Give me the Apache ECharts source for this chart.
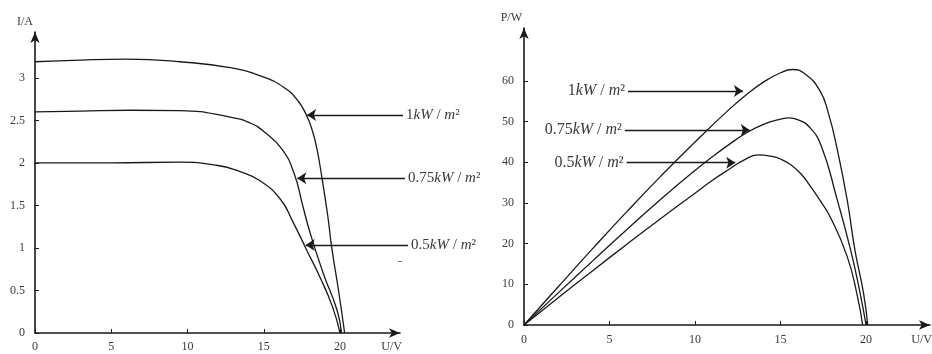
<!DOCTYPE html>
<html><head><meta charset="utf-8">
<script src="https://cdn.jsdelivr.net/npm/echarts@6/dist/echarts.min.js"></script>
<style>html,body{margin:0;padding:0;background:#fff}#c{width:932px;height:354px}</style>
</head><body><div id="c"></div><script>
// ---- I-V curves (left chart) ----
const ivU_1 = [0, 3, 6, 9.5, 12.8, 15, 16.3, 17.2, 17.8, 18.2, 18.5, 18.8, 19.2, 19.45, 19.9, 20.3];
const ivI_1 = [3.19, 3.21, 3.22, 3.19, 3.12, 3.01, 2.89, 2.74, 2.56, 2.37, 2.15, 1.84, 1.37, 1.01, 0.5, 0];
const ivU_075 = [0, 3, 6.2, 9.5, 12.8, 14.1, 15, 16.2, 17, 17.55, 18, 18.9, 19.8, 20.1];
const ivI_075 = [2.6, 2.61, 2.62, 2.615, 2.54, 2.47, 2.37, 2.16, 1.87, 1.5, 1.2, 0.7, 0.27, 0];
const ivU_05 = [0, 5, 9.5, 12, 13.4, 14.75, 16.1, 16.9, 17.8, 18.7, 19.5, 20];
const ivI_05 = [2.0, 2.0, 2.01, 1.97, 1.9, 1.79, 1.57, 1.31, 0.98, 0.65, 0.31, 0];
// ---- P-V curves (right chart) ----
const pvU_1 = [0, 2, 4, 6, 8, 10, 12, 13, 14, 15, 15.7, 16.4, 17.3, 17.8, 18.3, 18.9, 19.35, 19.85, 20.1];
const pvP_1 = [0, 9.4, 18.7, 27.8, 36.6, 45, 53, 56.6, 59.7, 62, 62.8, 61.8, 57.6, 52, 43.5, 30.7, 18.4, 7.9, 0];
const pvU_075 = [0, 2, 4, 6, 8, 10, 11, 12, 13, 14, 15, 15.5, 16, 16.7, 17.4, 18.3, 19.1, 19.65, 20];
const pvP_075 = [0, 7.9, 15.7, 23.4, 30.9, 38, 41.3, 44.4, 47.2, 49.3, 50.6, 50.9, 50.5, 48.6, 43.8, 31, 18.4, 7.9, 0];
const pvU_05 = [0, 2, 4, 6, 8, 10, 11, 12, 12.8, 13.7, 14.4, 15, 15.6, 16.2, 16.7, 17.3, 17.9, 18.9, 19.5, 19.8];
const pvP_05 = [0, 6.7, 13.3, 19.8, 26.2, 32.4, 35.5, 38.3, 40.4, 41.8, 41.5, 40.8, 39.4, 37.1, 34.4, 30.7, 26.6, 16.8, 7, 0];
// ---- labels / ticks ----
const irradiance = ['1', '0.75', '0.5'];
const uTicks = [0, 5, 10, 15, 20];
const iTicks = [0, 0.5, 1, 1.5, 2, 2.5, 3];
const pTicks = [0, 10, 20, 30, 40, 50, 60];
// ---- annotation arrows (data units) ----
const ivArrowI = [2.565, 1.82, 1.035];
const ivArrowTipU = [17.84, 17.2, 17.75];
const ivArrowStartU = [24.13, 24.26, 24.46];
const pvArrowP = [57.5, 47.9, 39.9];
const pvArrowTipU = [12.8, 13.2, 12.35];
const pvArrowStartU = [6.08, 5.9, 6.0];

const zip = (a, b) => a.map((v, i) => [v, b[i]]);
const FONT = 'Liberation Serif';
const TXT = '#3a3a3a';
const LINE = '#1a1a1a';

function xAxisCfg(grid, max, gap) {
  return {
    type: 'value', gridIndex: grid, min: 0, max: max,
    axisLine: { show: true, symbol: ['none', 'arrow'], symbolSize: [7, 11], lineStyle: { color: LINE, width: 1.6 } },
    axisTick: { show: true, inside: true, length: 4, customValues: uTicks, lineStyle: { color: LINE } },
    axisLabel: { customValues: uTicks, margin: gap, color: TXT, fontFamily: FONT, fontSize: 12 },
    splitLine: { show: false },
    name: 'U/V', nameLocation: 'end', nameGap: 2,
    nameTextStyle: { align: 'right', verticalAlign: 'top', padding: [gap, 0, 0, 0], color: TXT, fontFamily: FONT, fontSize: 12 }
  };
}
function yAxisCfg(grid, max, ticks, name) {
  return {
    type: 'value', gridIndex: grid, min: 0, max: max,
    axisLine: { show: true, symbol: ['none', 'arrow'], symbolSize: [7, 11], lineStyle: { color: LINE, width: 1.6 } },
    axisTick: { show: true, inside: true, length: 4, customValues: ticks, lineStyle: { color: LINE } },
    axisLabel: { customValues: ticks, margin: 10, color: TXT, fontFamily: FONT, fontSize: 12 },
    splitLine: { show: false },
    name: name, nameLocation: 'end', nameGap: 4,
    nameTextStyle: { align: 'right', color: TXT, fontFamily: FONT, fontSize: 12, padding: [0, 2, 0, 0] }
  };
}
function richFor(size) {
  return {
    n: { fontFamily: FONT, fontSize: size, color: TXT },
    i: { fontFamily: FONT, fontSize: size, fontStyle: 'italic', color: TXT }
  };
}
function arrows(gi, startU, tipU, yv, size) {
  return {
    type: 'lines', coordinateSystem: 'cartesian2d', xAxisIndex: gi, yAxisIndex: gi,
    polyline: false, clip: false, silent: true, animation: false,
    symbol: ['none', 'arrow'], symbolSize: [6, 9],
    lineStyle: { color: LINE, width: 1.3, type: 'solid', opacity: 1 },
    label: {
      show: true, position: 'start', distance: 3,
      formatter: p => '{n|' + p.name + '}{i|kW}{n| / }{i|m}{n|²}', rich: richFor(size)
    },
    data: irradiance.map((name, k) => ({ name: name, coords: [[startU[k], yv[k]], [tipU[k], yv[k]]] }))
  };
}
function curve(data, gi) {
  return {
    type: 'line', xAxisIndex: gi, yAxisIndex: gi, data: data, smooth: 0.5,
    symbol: 'none', clip: false, animation: false,
    lineStyle: { color: LINE, width: 1.3 }
  };
}
const ivSets = [zip(ivU_1, ivI_1), zip(ivU_075, ivI_075), zip(ivU_05, ivI_05)];
const pvSets = [zip(pvU_1, pvP_1), zip(pvU_075, pvP_075), zip(pvU_05, pvP_05)];
const series = [];
ivSets.forEach(d => series.push(curve(d, 0)));
pvSets.forEach(d => series.push(curve(d, 1)));
series.push(arrows(0, ivArrowStartU, ivArrowTipU, ivArrowI, 15));
series.push(arrows(1, pvArrowStartU, pvArrowTipU, pvArrowP, 16));

const chart = echarts.init(document.getElementById('c'), null, { renderer: 'canvas' });
chart.setOption({
  backgroundColor: '#fff',
  animation: false,
  grid: [
    { left: 35, top: 32, width: 365, height: 301, containLabel: false, outerBoundsMode: 'none' },
    { left: 524, top: 28, width: 406, height: 297, containLabel: false, outerBoundsMode: 'none' }
  ],
  xAxis: [xAxisCfg(0, 23.93, 8), xAxisCfg(1, 23.74, 9)],
  yAxis: [yAxisCfg(0, 3.54, iTicks, 'I/A'), yAxisCfg(1, 73, pTicks, 'P/W')],
  series: series,
  graphic: [{ type: 'text', left: 398, top: 256, style: { text: '-', fontFamily: FONT, fontSize: 12, fill: '#555' } }]
});
</script></body></html>
